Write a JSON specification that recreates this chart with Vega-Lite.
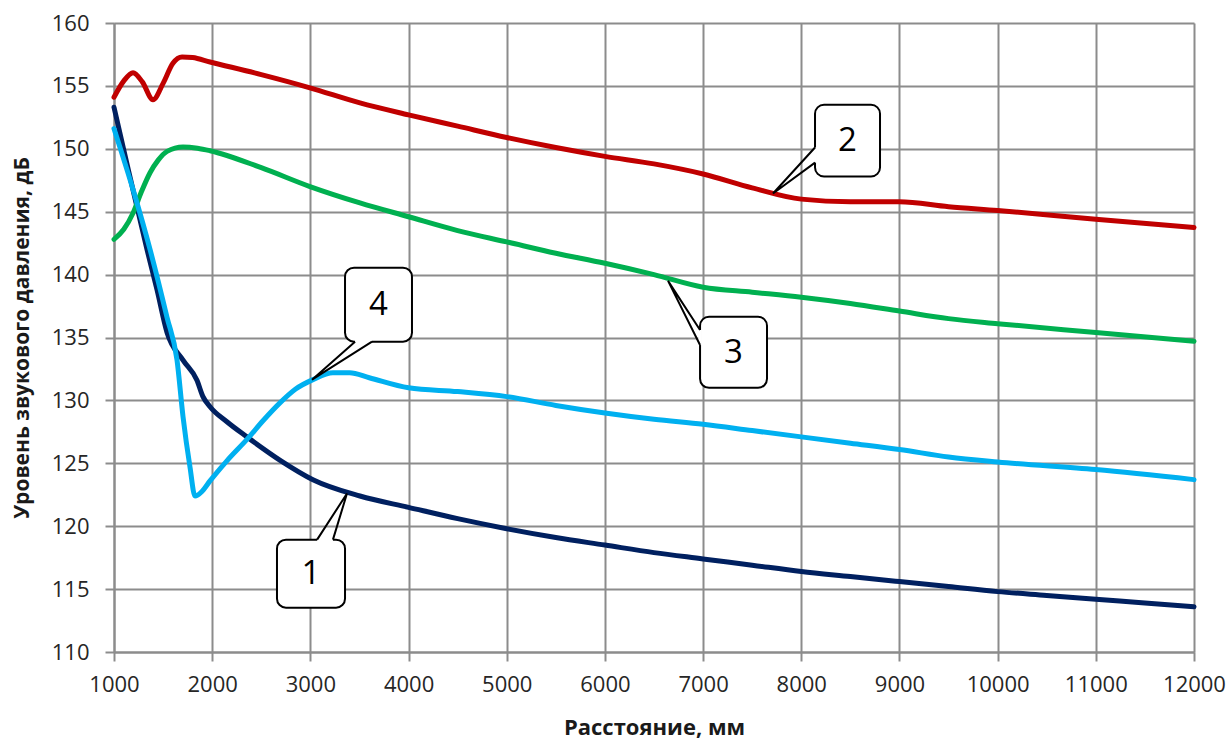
{
  "$schema": "https://vega.github.io/schema/vega-lite/v6.json",
  "width": 1080,
  "height": 629,
  "autosize": {"type": "none"},
  "padding": {"left": 114, "top": 23, "right": 38, "bottom": 88},
  "background": "white",
  "config": {
    "view": {"stroke": null},
    "font": "Open Sans",
    "axis": {
      "gridColor": "#8c8c8c",
      "gridWidth": 2,
      "gridOpacity": 1,
      "domainColor": "#8c8c8c",
      "domainWidth": 2,
      "tickColor": "#8c8c8c",
      "tickWidth": 2,
      "tickSize": 9,
      "labelFont": "Open Sans",
      "labelFontSize": 22,
      "labelColor": "#262626",
      "titleFont": "Open Sans",
      "titleFontWeight": "bold",
      "titleColor": "#1a1a1a"
    }
  },
  "datasets": {
    "curves": [
      {"s": "1", "x": 1000, "y": 153.3}, {"s": "1", "x": 1150, "y": 148.2}, {"s": "1", "x": 1336, "y": 142.0},
      {"s": "1", "x": 1438, "y": 138.8}, {"s": "1", "x": 1540, "y": 135.4}, {"s": "1", "x": 1703, "y": 133.2},
      {"s": "1", "x": 1845, "y": 131.6}, {"s": "1", "x": 1906, "y": 130.3}, {"s": "1", "x": 1978, "y": 129.5},
      {"s": "1", "x": 2150, "y": 128.3}, {"s": "1", "x": 2354, "y": 127.1}, {"s": "1", "x": 2700, "y": 125.2},
      {"s": "1", "x": 3026, "y": 123.7}, {"s": "1", "x": 3505, "y": 122.4}, {"s": "1", "x": 4000, "y": 121.5},
      {"s": "1", "x": 4500, "y": 120.6}, {"s": "1", "x": 5000, "y": 119.8}, {"s": "1", "x": 5500, "y": 119.1},
      {"s": "1", "x": 6000, "y": 118.5}, {"s": "1", "x": 6500, "y": 117.9}, {"s": "1", "x": 7000, "y": 117.4},
      {"s": "1", "x": 7500, "y": 116.9}, {"s": "1", "x": 8000, "y": 116.4}, {"s": "1", "x": 8500, "y": 116.0},
      {"s": "1", "x": 9000, "y": 115.6}, {"s": "1", "x": 9500, "y": 115.2}, {"s": "1", "x": 10000, "y": 114.8},
      {"s": "1", "x": 10500, "y": 114.5}, {"s": "1", "x": 11000, "y": 114.2}, {"s": "1", "x": 11500, "y": 113.9},
      {"s": "1", "x": 12000, "y": 113.6},

      {"s": "2", "x": 1000, "y": 154.1}, {"s": "2", "x": 1100, "y": 155.4}, {"s": "2", "x": 1194, "y": 156.05},
      {"s": "2", "x": 1290, "y": 155.3}, {"s": "2", "x": 1397, "y": 153.9}, {"s": "2", "x": 1500, "y": 155.2},
      {"s": "2", "x": 1600, "y": 156.8}, {"s": "2", "x": 1693, "y": 157.3}, {"s": "2", "x": 1800, "y": 157.25},
      {"s": "2", "x": 1978, "y": 156.9}, {"s": "2", "x": 2500, "y": 155.9}, {"s": "2", "x": 2996, "y": 154.85},
      {"s": "2", "x": 3505, "y": 153.65}, {"s": "2", "x": 4000, "y": 152.7}, {"s": "2", "x": 4500, "y": 151.8},
      {"s": "2", "x": 5000, "y": 150.9}, {"s": "2", "x": 5500, "y": 150.1}, {"s": "2", "x": 6000, "y": 149.4},
      {"s": "2", "x": 6500, "y": 148.8}, {"s": "2", "x": 7000, "y": 148.0}, {"s": "2", "x": 7500, "y": 146.9},
      {"s": "2", "x": 8000, "y": 146.0}, {"s": "2", "x": 8500, "y": 145.8}, {"s": "2", "x": 9000, "y": 145.8},
      {"s": "2", "x": 9500, "y": 145.4}, {"s": "2", "x": 10000, "y": 145.1}, {"s": "2", "x": 11000, "y": 144.4},
      {"s": "2", "x": 12000, "y": 143.75},

      {"s": "3", "x": 1000, "y": 142.8}, {"s": "3", "x": 1100, "y": 143.6}, {"s": "3", "x": 1194, "y": 144.9},
      {"s": "3", "x": 1280, "y": 146.6}, {"s": "3", "x": 1367, "y": 148.1}, {"s": "3", "x": 1450, "y": 149.1},
      {"s": "3", "x": 1540, "y": 149.8}, {"s": "3", "x": 1703, "y": 150.15}, {"s": "3", "x": 1850, "y": 150.05},
      {"s": "3", "x": 1978, "y": 149.85},
      {"s": "3", "x": 2500, "y": 148.5}, {"s": "3", "x": 2996, "y": 147.0}, {"s": "3", "x": 3505, "y": 145.7},
      {"s": "3", "x": 4000, "y": 144.6}, {"s": "3", "x": 4500, "y": 143.5}, {"s": "3", "x": 5000, "y": 142.6},
      {"s": "3", "x": 5500, "y": 141.7}, {"s": "3", "x": 6000, "y": 140.9}, {"s": "3", "x": 6500, "y": 140.0},
      {"s": "3", "x": 7000, "y": 139.0}, {"s": "3", "x": 7500, "y": 138.6}, {"s": "3", "x": 8000, "y": 138.2},
      {"s": "3", "x": 8500, "y": 137.7}, {"s": "3", "x": 9000, "y": 137.1}, {"s": "3", "x": 9500, "y": 136.5},
      {"s": "3", "x": 10000, "y": 136.1}, {"s": "3", "x": 11000, "y": 135.4}, {"s": "3", "x": 12000, "y": 134.7},

      {"s": "4", "x": 1000, "y": 151.6}, {"s": "4", "x": 1200, "y": 146.6}, {"s": "4", "x": 1367, "y": 142.0},
      {"s": "4", "x": 1540, "y": 136.6}, {"s": "4", "x": 1642, "y": 133.2}, {"s": "4", "x": 1703, "y": 128.7},
      {"s": "4", "x": 1774, "y": 124.7}, {"s": "4", "x": 1825, "y": 122.4}, {"s": "4", "x": 1900, "y": 122.8},
      {"s": "4", "x": 1978, "y": 123.6}, {"s": "4", "x": 2150, "y": 125.2}, {"s": "4", "x": 2354, "y": 126.9},
      {"s": "4", "x": 2520, "y": 128.4}, {"s": "4", "x": 2690, "y": 129.8}, {"s": "4", "x": 2850, "y": 130.9},
      {"s": "4", "x": 3026, "y": 131.65}, {"s": "4", "x": 3230, "y": 132.2}, {"s": "4", "x": 3400, "y": 132.2},
      {"s": "4", "x": 3600, "y": 131.8}, {"s": "4", "x": 4000, "y": 131.0}, {"s": "4", "x": 4500, "y": 130.7},
      {"s": "4", "x": 5000, "y": 130.3}, {"s": "4", "x": 5500, "y": 129.6}, {"s": "4", "x": 6000, "y": 129.0},
      {"s": "4", "x": 6500, "y": 128.5}, {"s": "4", "x": 7000, "y": 128.1}, {"s": "4", "x": 7500, "y": 127.6},
      {"s": "4", "x": 8000, "y": 127.1}, {"s": "4", "x": 8500, "y": 126.6}, {"s": "4", "x": 9000, "y": 126.1},
      {"s": "4", "x": 9500, "y": 125.5}, {"s": "4", "x": 10000, "y": 125.1}, {"s": "4", "x": 11000, "y": 124.5},
      {"s": "4", "x": 12000, "y": 123.7}
    ],
    "boxes": [
      {"label": "1", "x1": 2660, "x2": 3353, "y1": 118.93, "y2": 113.52, "cx": 3006, "cy": 116.2},
      {"label": "2", "x1": 8140, "x2": 8802, "y1": 153.5, "y2": 147.8, "cx": 8471, "cy": 150.65},
      {"label": "3", "x1": 6969, "x2": 7651, "y1": 136.65, "y2": 131.0, "cx": 7310, "cy": 133.8},
      {"label": "4", "x1": 3353, "x2": 4035, "y1": 140.55, "y2": 134.67, "cx": 3694, "cy": 137.6}
    ],
    "gaps": [
      {"label": "1", "x1": 3069, "y1": 118.93, "x2": 3230, "y2": 118.93},
      {"label": "2", "x1": 8140, "y1": 150.1, "x2": 8140, "y2": 148.9},
      {"label": "3", "x1": 6969, "y1": 135.6, "x2": 6969, "y2": 134.4},
      {"label": "4", "x1": 3455, "y1": 134.67, "x2": 3628, "y2": 134.67}
    ],
    "pointers": [
      {"label": "1", "k": 0, "x": 3069, "y": 118.93}, {"label": "1", "k": 1, "x": 3373, "y": 122.6}, {"label": "1", "k": 2, "x": 3230, "y": 118.93},
      {"label": "2", "k": 0, "x": 8140, "y": 150.1}, {"label": "2", "k": 1, "x": 7712, "y": 146.45}, {"label": "2", "k": 2, "x": 8140, "y": 148.9},
      {"label": "3", "k": 0, "x": 6969, "y": 135.6}, {"label": "3", "k": 1, "x": 6643, "y": 139.5}, {"label": "3", "k": 2, "x": 6969, "y": 134.4},
      {"label": "4", "k": 0, "x": 3455, "y": 134.67}, {"label": "4", "k": 1, "x": 3017, "y": 131.65}, {"label": "4", "k": 2, "x": 3628, "y": 134.67}
    ]
  },
  "layer": [
    {
      "data": {"name": "curves"},
      "mark": {"type": "line", "interpolate": "monotone", "strokeWidth": 5, "strokeCap": "round", "strokeJoin": "round"},
      "encoding": {
        "x": {
          "field": "x", "type": "quantitative",
          "scale": {"domain": [1000, 12000], "nice": false, "zero": false},
          "axis": {
            "values": [1000, 2000, 3000, 4000, 5000, 6000, 7000, 8000, 9000, 10000, 11000, 12000],
            "format": "d",
            "labelPadding": 13,
            "labelFlush": false,
            "title": "Расстояние, мм",
            "titleFontSize": 22,
            "titlePadding": 22
          }
        },
        "y": {
          "field": "y", "type": "quantitative",
          "scale": {"domain": [110, 160], "nice": false, "zero": false},
          "axis": {
            "values": [110, 115, 120, 125, 130, 135, 140, 145, 150, 155, 160],
            "labelPadding": 16,
            "title": "Уровень звукового давления, дБ",
            "titleFontSize": 21,
            "titlePadding": 19
          }
        },
        "color": {
          "field": "s", "type": "nominal",
          "scale": {"domain": ["1", "2", "3", "4"], "range": ["#002060", "#C00000", "#00B050", "#00B0F0"]},
          "legend": null
        }
      }
    },
    {
      "data": {"name": "boxes"},
      "mark": {"type": "rect", "fill": "white", "stroke": "black", "strokeWidth": 2, "cornerRadius": 9},
      "encoding": {
        "x": {"field": "x1", "type": "quantitative"},
        "x2": {"field": "x2"},
        "y": {"field": "y1", "type": "quantitative"},
        "y2": {"field": "y2"}
      }
    },
    {
      "data": {"name": "gaps"},
      "mark": {"type": "rule", "stroke": "white", "strokeWidth": 3.5},
      "encoding": {
        "x": {"field": "x1", "type": "quantitative"},
        "x2": {"field": "x2"},
        "y": {"field": "y1", "type": "quantitative"},
        "y2": {"field": "y2"}
      }
    },
    {
      "data": {"name": "pointers"},
      "mark": {"type": "line", "stroke": "black", "strokeWidth": 2, "strokeJoin": "miter"},
      "encoding": {
        "x": {"field": "x", "type": "quantitative"},
        "y": {"field": "y", "type": "quantitative"},
        "detail": {"field": "label"},
        "order": {"field": "k"}
      }
    },
    {
      "data": {"name": "boxes"},
      "mark": {"type": "text", "fontSize": 33, "font": "Open Sans", "color": "black", "align": "center", "baseline": "middle"},
      "encoding": {
        "x": {"field": "cx", "type": "quantitative"},
        "y": {"field": "cy", "type": "quantitative"},
        "text": {"field": "label"}
      }
    }
  ]
}
